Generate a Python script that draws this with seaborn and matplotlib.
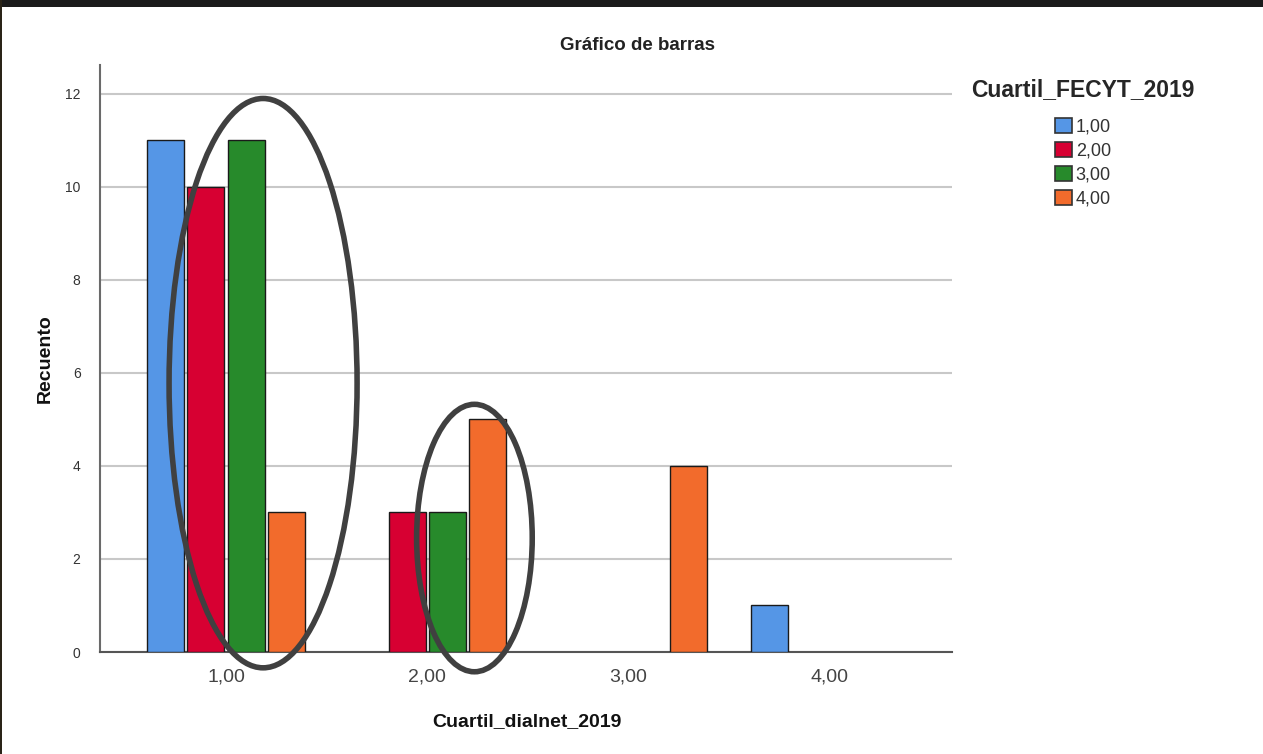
import numpy as np
import pandas as pd
import seaborn as sns
import matplotlib.pyplot as plt
from matplotlib.patches import Ellipse, Rectangle

# ---------------------------------------------------------------------------
# Data
# ---------------------------------------------------------------------------
dialnet_levels = ["1,00", "2,00", "3,00", "4,00"]   # x categories
fecyt_levels = ["1,00", "2,00", "3,00", "4,00"]     # hue levels

count_fecyt_1 = [11, 0, 0, 1]
count_fecyt_2 = [10, 3, 0, 0]
count_fecyt_3 = [11, 3, 0, 0]
count_fecyt_4 = [3, 5, 4, 0]

palette = {
    "1,00": "#5596E6",
    "2,00": "#D70032",
    "3,00": "#278A2B",
    "4,00": "#F26B2C",
}

rows = []
for hue, counts in zip(fecyt_levels,
                       [count_fecyt_1, count_fecyt_2, count_fecyt_3, count_fecyt_4]):
    for cat, n in zip(dialnet_levels, counts):
        rows.append({"Cuartil_dialnet_2019": cat, "Cuartil_FECYT_2019": hue, "Recuento": n})
df = pd.DataFrame(rows)
df = df[df["Recuento"] > 0]   # SPSS leaves empty slots for zero counts

# ---------------------------------------------------------------------------
# Plot
# ---------------------------------------------------------------------------
sns.set_style("white")
plt.rcParams["font.family"] = ["Liberation Sans", "DejaVu Sans"]

fig = plt.figure(figsize=(12.63, 7.54), dpi=100)
ax = fig.add_axes([100 / 1263, 1 - 652 / 754, 852 / 1263, 587 / 754])

sns.barplot(
    data=df,
    x="Cuartil_dialnet_2019",
    y="Recuento",
    hue="Cuartil_FECYT_2019",
    order=dialnet_levels,
    hue_order=fecyt_levels,
    palette=palette,
    saturation=1,
    width=0.8,
    gap=0.08,
    edgecolor="#1a1a1a",
    linewidth=1,
    errorbar=None,
    ax=ax,
    zorder=3,
)

ax.set_xlim(-0.627, 3.61)
ax.set_ylim(0, 12.62)
ax.set_yticks([0, 2, 4, 6, 8, 10, 12])
ax.yaxis.grid(True, color="#C8C8C8", linewidth=1.5, zorder=0)
ax.set_axisbelow(True)

for side in ["top", "right"]:
    ax.spines[side].set_visible(False)
ax.spines["left"].set_color("#6a6a6a")
ax.spines["left"].set_linewidth(1.5)
ax.spines["bottom"].set_color("#555555")
ax.spines["bottom"].set_linewidth(1.5)

ax.tick_params(axis="y", length=0, pad=14, labelsize=10, labelcolor="#333333")
ax.tick_params(axis="x", length=0, pad=12, labelsize=14, labelcolor="#444444")

ax.set_ylabel("Recuento", fontsize=14, fontweight="bold", color="#111111")
ax.yaxis.set_label_coords(-0.054, 0.5)
ax.set_xlabel("Cuartil_dialnet_2019", fontsize=14, fontweight="bold", color="#111111")
ax.xaxis.set_label_coords(0.501, -0.104)

fig.text(637 / 1263, 1 - 45 / 754, "Gráfico de barras", ha="center", va="center",
         fontsize=13.5, fontweight="bold", color="#222222")

# legend
handles, labels = ax.get_legend_handles_labels()
if ax.legend_:
    ax.legend_.remove()
leg = fig.legend(
    handles, labels,
    title="Cuartil_FECYT_2019",
    loc="upper left",
    bbox_to_anchor=(955 / 1263, 1 - 62 / 754),
    frameon=False,
    fontsize=13,
    title_fontproperties={"size": 16.5, "weight": "bold"},
    handlelength=0.95,
    handleheight=0.95,
    handletextpad=0.2,
    labelspacing=0.33,
)
leg._legend_box.sep = 12
for h in leg.legend_handles:
    h.set_edgecolor("#333333")
    h.set_linewidth(1.2)
for t in leg.get_texts():
    t.set_color("#333333")

# hand-drawn highlight ellipses
for (cx, cy, w, h) in [(0.184, 5.78, 0.935, 12.24), (1.235, 2.45, 0.575, 5.75)]:
    ax.add_patch(Ellipse((cx, cy), w, h, fill=False, edgecolor="#404040",
                         linewidth=4, zorder=5, clip_on=False))

# dark screenshot frame
fig.patches.append(Rectangle((0, 1 - 7 / 754), 1, 7 / 754, transform=fig.transFigure,
                             facecolor="#1b1b1b", edgecolor="none", zorder=10))
fig.patches.append(Rectangle((0, 0), 2.5 / 1263, 1, transform=fig.transFigure,
                             facecolor="#2a2418", edgecolor="none", zorder=10))

fig.savefig("out.png", dpi=100)
